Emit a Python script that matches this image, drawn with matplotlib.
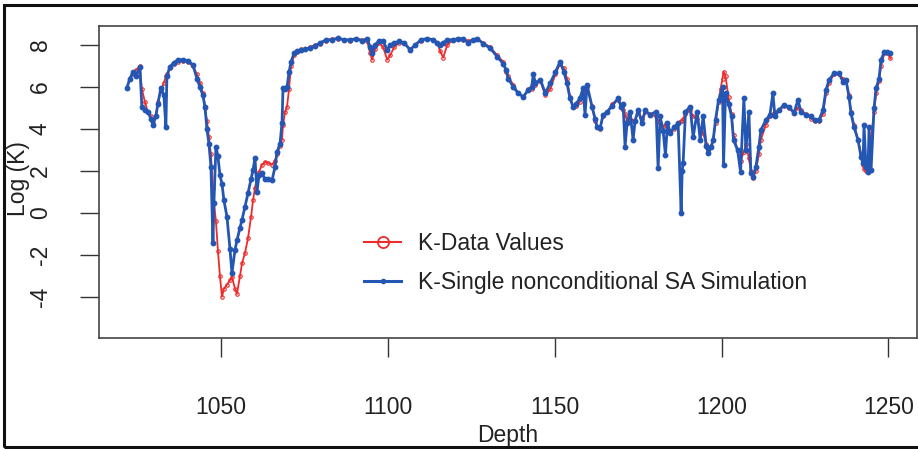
import matplotlib
matplotlib.use("Agg")
import matplotlib.pyplot as plt
from matplotlib.lines import Line2D
from matplotlib.patches import Rectangle

plt.rcParams['font.family'] = ['Liberation Sans', 'DejaVu Sans']

# depth of each sample (shared by both series)
depth = [
    1021.8, 1022.7, 1023.6, 1024.5, 1025.7, 1026.3, 1027.2, 1028.1, 1029.0, 1029.6,
    1030.5, 1031.1, 1032.0, 1032.9, 1033.5, 1033.8, 1034.7, 1035.9, 1037.1, 1038.6,
    1040.1, 1041.6, 1042.8, 1043.7, 1044.6, 1045.2, 1045.8, 1046.4, 1047.0, 1047.6,
    1047.9, 1048.5, 1049.1, 1049.7, 1050.3, 1050.9, 1051.8, 1052.7, 1053.3, 1054.2,
    1054.8, 1055.7, 1056.3, 1057.2, 1058.1, 1059.0, 1059.6, 1060.2, 1060.8, 1061.4,
    1062.3, 1063.2, 1064.1, 1065.3, 1066.2, 1066.8, 1067.7, 1068.3, 1068.6, 1069.2,
    1069.8, 1070.4, 1071.0, 1071.9, 1072.8, 1074.0, 1075.2, 1076.7, 1078.2, 1079.7,
    1081.5, 1083.3, 1085.1, 1086.9, 1088.7, 1090.5, 1092.3, 1093.8, 1094.7, 1095.3,
    1096.2, 1097.4, 1098.6, 1099.8, 1100.7, 1101.9, 1103.4, 1104.9, 1106.7, 1108.2,
    1110.0, 1111.8, 1113.6, 1114.8, 1115.7, 1116.6, 1117.8, 1119.6, 1121.1, 1122.6,
    1124.1, 1125.6, 1126.8, 1128.6, 1130.7, 1132.8, 1134.6, 1135.5, 1136.1, 1137.6,
    1139.1, 1140.6, 1142.1, 1143.1, 1143.6, 1144.2, 1145.7, 1147.2, 1148.7, 1150.2,
    1151.6, 1152.8, 1153.7, 1154.6, 1155.5, 1156.4, 1157.6, 1158.5, 1159.1, 1159.7,
    1161.2, 1162.1, 1162.7, 1163.6, 1164.5, 1165.7, 1167.2, 1169.0, 1169.9, 1170.5,
    1171.1, 1171.7, 1172.6, 1173.5, 1174.1, 1175.0, 1176.2, 1177.1, 1178.6, 1180.4,
    1181.0, 1181.6, 1182.5, 1183.2, 1183.8, 1184.6, 1185.8, 1187.0, 1187.9, 1188.2,
    1188.5, 1189.2, 1190.6, 1191.5, 1192.7, 1193.6, 1194.5, 1195.4, 1196.0, 1196.9,
    1197.5, 1198.2, 1199.1, 1199.7, 1200.3, 1200.6, 1201.2, 1202.1, 1203.0, 1203.6,
    1204.8, 1205.7, 1206.7, 1207.3, 1208.2, 1208.8, 1209.4, 1210.3, 1211.2, 1211.8,
    1213.3, 1214.5, 1215.4, 1216.0, 1217.2, 1218.7, 1220.2, 1221.7, 1222.9, 1223.8,
    1225.3, 1226.8, 1228.0, 1229.2, 1230.4, 1231.3, 1232.2, 1233.7, 1235.2, 1236.4,
    1237.3, 1238.2, 1238.8, 1239.7, 1240.9, 1241.8, 1242.4, 1242.7, 1243.3, 1243.9,
    1244.2, 1244.8, 1245.7, 1246.3, 1247.2, 1247.8, 1248.8, 1249.7, 1250.6,
]

# measured log(K)
k_data = [
    5.95, 6.4, 6.6, 6.8, 7.0, 5.9, 5.3, 4.8, 4.6, 4.3,
    4.6, 5.3, 5.8, 6.2, 6.5, 6.6, 6.9, 7.1, 7.2, 7.25,
    7.2, 7.0, 6.6, 6.2, 5.7, 5.0, 4.4, 3.6, 2.8, 1.2,
    0.5, -0.4, -1.8, -3.0, -3.98, -3.6, -3.4, -3.2, -3.03, -3.6,
    -3.85, -3.0, -2.4, -1.9, -1.2, -0.2, 0.6, 1.2, 1.7, 1.95,
    2.3, 2.44, 2.4, 2.3, 2.5, 2.8, 3.2, 3.5, 4.2, 4.8,
    5.06, 5.9, 7.0, 7.5, 7.65, 7.8, 7.8, 7.9, 8.0, 8.05,
    8.2, 8.3, 8.3, 8.25, 8.2, 8.3, 8.25, 8.2, 7.6, 7.3,
    7.8, 8.1, 7.9, 7.3, 7.5, 7.9, 8.1, 8.1, 7.8, 8.0,
    8.2, 8.3, 8.25, 8.1, 7.7, 7.4, 8.0, 8.25, 8.3, 8.25,
    8.2, 8.25, 8.3, 8.1, 7.9, 7.5, 7.2, 6.7, 6.5, 6.1,
    5.7, 5.5, 5.9, 5.9, 6.2, 6.1, 6.3, 5.6, 5.9, 6.6,
    7.1, 6.9, 6.4, 5.5, 5.1, 5.1, 5.3, 5.8, 5.7, 6.0,
    5.1, 4.4, 4.1, 4.0, 4.6, 4.8, 5.2, 5.4, 5.1, 4.9,
    4.7, 4.4, 4.5, 4.4, 4.4, 4.8, 4.5, 4.8, 4.7, 4.6,
    4.4, 4.3, 4.1, 4.2, 4.3, 3.9, 4.0, 4.3, 4.4, 4.4,
    4.5, 4.7, 4.9, 4.6, 4.5, 4.0, 3.8, 3.3, 3.0, 3.2,
    3.5, 4.3, 5.3, 5.9, 6.4, 6.73, 6.5, 5.5, 4.7, 3.7,
    3.0, 2.5, 2.9, 3.3, 2.6, 2.0, 1.65, 2.0, 2.8, 3.5,
    4.2, 4.6, 4.7, 4.8, 4.9, 5.1, 5.0, 4.8, 5.0, 4.9,
    4.7, 4.5, 4.4, 4.4, 4.7, 5.7, 6.2, 6.6, 6.6, 6.4,
    6.3, 5.6, 4.8, 4.2, 3.5, 2.8, 2.3, 2.1, 2.0, 2.3,
    2.6, 3.6, 4.8, 5.7, 6.3, 7.0, 7.6, 7.6, 7.37,
]

# single nonconditional SA simulation
k_sim = [
    5.95, 6.4, 6.7, 6.5, 6.95, 5.06, 4.9, 4.8, 4.5, 4.2,
    4.6, 5.2, 5.95, 5.6, 4.1, 6.5, 6.97, 7.15, 7.3, 7.3,
    7.25, 7.05, 6.4, 6.0, 5.6, 5.06, 4.0, 3.3, 2.2, -1.44,
    0.5, 3.16, 2.7, 1.8, 1.4, 0.6, -0.17, -1.7, -2.86, -1.76,
    -1.3, -0.7, -0.33, 0.3, 0.94, 1.6, 2.05, 2.6, 1.0, 1.8,
    1.9, 1.6, 1.6, 1.55, 2.2, 2.9, 3.3, 4.3, 5.93, 5.9,
    6.0, 6.7, 7.2, 7.6, 7.7, 7.75, 7.8, 7.85, 7.95, 8.1,
    8.24, 8.25, 8.32, 8.25, 8.24, 8.3, 8.2, 8.3, 7.9, 7.6,
    8.0, 8.2, 8.2, 7.76, 8.0, 8.1, 8.17, 8.1, 7.76, 8.0,
    8.25, 8.3, 8.25, 8.1, 8.0, 8.1, 8.24, 8.25, 8.3, 8.3,
    8.1, 8.25, 8.3, 8.06, 7.84, 7.44, 7.1, 6.8, 6.4, 6.0,
    5.7, 5.54, 5.86, 6.0, 6.6, 6.2, 6.35, 5.7, 6.2, 6.7,
    7.2, 6.7, 6.17, 5.46, 5.06, 5.2, 5.46, 5.94, 4.67, 6.1,
    5.06, 4.5, 4.1, 4.03, 4.67, 4.8, 5.1, 5.46, 5.06, 5.2,
    3.16, 4.3, 4.83, 3.48, 4.4, 4.9, 4.27, 4.9, 4.67, 4.83,
    2.13, 4.6, 3.9, 2.76, 4.3, 3.8, 4.1, 4.27, -0.02, 2.0,
    2.4, 4.83, 5.06, 3.6, 4.83, 3.48, 4.6, 3.2, 2.84, 3.16,
    3.48, 4.43, 5.38, 5.6, 6.0, 2.28, 5.7, 5.2, 4.6, 3.48,
    3.0, 1.97, 5.46, 3.0, 4.83, 1.89, 1.73, 2.2, 3.16, 3.95,
    4.43, 4.67, 5.7, 4.6, 4.9, 5.14, 5.06, 4.76, 5.38, 4.83,
    4.67, 4.6, 4.43, 4.43, 4.9, 5.86, 6.33, 6.65, 6.65, 6.25,
    6.33, 5.54, 4.75, 4.1, 3.48, 2.68, 2.37, 4.19, 2.2, 1.97,
    4.1, 2.04, 4.98, 5.94, 6.4, 7.29, 7.68, 7.68, 7.6,
]

x_ticks = [1050, 1100, 1150, 1200, 1250]
y_ticks = [-4, -2, 0, 2, 4, 6, 8]

red = '#ee2b2b'
blue = '#2456b4'

fig = plt.figure(figsize=(9.18, 4.49), dpi=100)
ax = fig.add_axes([0.108, 0.247, 0.891, 0.695])

ax.plot(depth, k_data, color=red, lw=1.3, marker='o', ms=2.5, mfc='none', mew=0.8)
ax.plot(depth, k_sim, color=blue, lw=2.0, marker='o', ms=3.2, mec=blue, mfc=blue)

ax.set_xlim(1013.5, 1258.6)
ax.set_ylim(-5.95, 8.9)
ax.set_xticks(x_ticks)
ax.set_yticks(y_ticks)
ax.set_yticklabels([str(v) for v in y_ticks], rotation=90, va='center')
ax.tick_params(axis='both', length=14, width=1.0, color='#333333',
               labelsize=16.5, labelcolor='#222222')
ax.tick_params(axis='x', pad=28)
ax.tick_params(axis='y', pad=20)
ax.set_xlabel('Depth', fontsize=16.5, color='#222222', labelpad=3)
ax.set_ylabel('Log (K)', fontsize=16.5, color='#222222')
ax.yaxis.set_label_coords(-0.085, 0.51)
for s in ax.spines.values():
    s.set_color('#444444')
    s.set_linewidth(1.2)

handles = [
    Line2D([], [], color=red, lw=1.5, marker='o', ms=8, mfc='none', mew=1.3),
    Line2D([], [], color=blue, lw=2.2, marker='o', ms=3, mfc=blue),
]
ax.legend(handles, ['K-Data Values', 'K-Single nonconditional SA Simulation'],
          loc='upper left', bbox_to_anchor=(0.299, 0.405), frameon=False,
          fontsize=16.5, handlelength=1.6, handletextpad=0.75,
          labelspacing=0.7, labelcolor='#222222')

# outer frame around the whole picture
fig.patches.append(Rectangle((0.004, 0.005), 1.2, 0.984, transform=fig.transFigure,
                             fill=False, edgecolor='#111111', lw=2.2, clip_on=False))

fig.savefig('out.png', dpi=100)
